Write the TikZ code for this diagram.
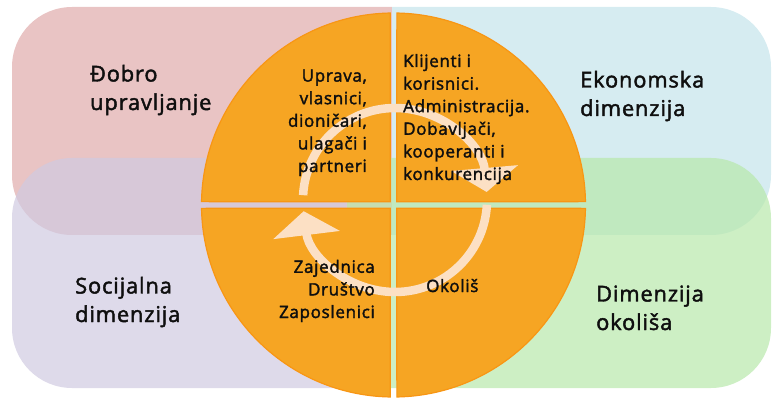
\documentclass[tikz,border=0pt]{standalone}
\usepackage{fontspec}
\setmainfont{Open Sans}
\newfontfamily\labfont[LetterSpace=4,FakeBold=2]{Open Sans}
\usetikzlibrary{arrows.meta}
\definecolor{pinkbg}{RGB}{233,196,196}
\definecolor{bluebg}{RGB}{214,236,241}
\definecolor{lavbg}{RGB}{208,202,225}
\definecolor{greenbg}{RGB}{184,232,171}
\definecolor{orangeq}{RGB}{246,165,35}
\definecolor{orangeb}{RGB}{248,150,20}
\definecolor{ringc}{RGB}{252,224,196}
\definecolor{txt}{RGB}{15,15,15}
\begin{document}
\begin{tikzpicture}[x=1pt,y=1pt,
  bigl/.style={font=\labfont\fontsize{21.8}{28.5}\selectfont, text=txt, inner sep=0pt, align=left},
  inl/.style={font=\labfont\fontsize{17}{22.6}\selectfont, text=txt, inner sep=0pt},
  quad/.style={fill=orangeq, draw=orangeb, line width=1.2pt},
  ring/.style={draw=ringc, line width=8.5pt, -{Triangle[width=66pt,length=24pt]}},
  bg/.style={rounded corners=60pt}]
\useasboundingbox (0,0) rectangle (772,397);
% background panels
\begin{scope}
  \clip (12,162) rectangle (392,390);
  \fill[bg, pinkbg] (12,162) rectangle (500,390);
\end{scope}
\begin{scope}
  \clip (392,162) rectangle (771,390);
  \fill[bg, bluebg] (280,162) rectangle (771,390);
\end{scope}
\begin{scope}
  \clip (12,9) rectangle (347,239);
  \fill[bg, lavbg, fill opacity=0.7] (12,9) rectangle (460,239);
\end{scope}
\begin{scope}
  \clip (347,9) rectangle (771,239);
  \fill[bg, greenbg, fill opacity=0.7] (230,9) rectangle (771,239);
\end{scope}
% central circle quadrants
\coordinate (C) at (393.5,192);
\path[quad] ([shift={(3.3,3.3)}]C) -- ([shift={(89:192)}]C) arc[start angle=89, end angle=1, radius=192] -- cycle;
\path[quad] ([shift={(-3.3,3.3)}]C) -- ([shift={(91:192)}]C) arc[start angle=91, end angle=179, radius=192] -- cycle;
\path[quad] ([shift={(-3.3,-3.3)}]C) -- ([shift={(181:192)}]C) arc[start angle=181, end angle=269, radius=192] -- cycle;
\path[quad] ([shift={(3.3,-3.3)}]C) -- ([shift={(271:192)}]C) arc[start angle=271, end angle=359, radius=192] -- cycle;
% circular arrows
\coordinate (R) at (395,197);
\draw[ring] ([shift={(177:92)}]R) arc[start angle=177, end angle=5, radius=92];
\draw[ring] ([shift={(-3:92)}]R) arc[start angle=-3, end angle=-173, radius=92];
% labels
\node[bigl, anchor=base west] (dobro) at (90,287) {Đobro\\upravljanje};
\node[bigl, anchor=base west] (ekon) at (580,281) {Ekonomska\\dimenzija};
\node[bigl, anchor=base west] (soc) at (75,75) {Socijalna\\dimenzija};
\node[bigl, anchor=base west] (dimo) at (596,67) {Dimenzija\\okoliša};
\node[inl, anchor=base east, align=right] (uprava) at (367,225) {Uprava,\\vlasnici,\\dioničari,\\ulagači i\\partneri};
\node[inl, anchor=base west, align=left] (klij) at (403,217) {Klijenti i\\korisnici.\\Administracija.\\Dobavljači,\\kooperanti i\\konkurencija};
\node[inl, anchor=base east, align=right] (zaj) at (375,79) {Zajednica\\Društvo\\Zaposlenici};
\node[inl, anchor=base west] (okolis) at (426,105) {Okoliš};
\end{tikzpicture}
\end{document}
